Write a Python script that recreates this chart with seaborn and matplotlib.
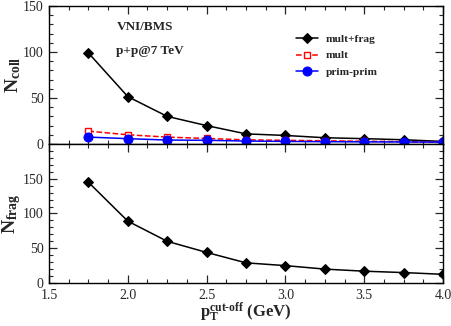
import matplotlib
matplotlib.use("Agg")
import matplotlib.pyplot as plt
import seaborn as sns
from matplotlib.ticker import MultipleLocator, FormatStrFormatter

pt_cut = [1.75, 2.0, 2.25, 2.5, 2.75, 3.0, 3.25, 3.5, 3.75, 4.0]
mult_frag = [99, 51.5, 30, 20, 11, 9.3, 6.8, 5.8, 4.6, 2.8]
mult = [14, 10, 7.5, 6, 4.5, 4, 3.5, 3, 2.5, 2]
prim_prim = [7.5, 5.8, 4.3, 4, 3.2, 2.8, 2.5, 2.3, 2.2, 2.0]
n_frag = [145, 89, 60, 44, 29, 25, 20, 17, 15, 12.5]

sns.set_style("ticks")
plt.rcParams['font.family'] = ['Liberation Serif', 'DejaVu Serif']
plt.rcParams['mathtext.fontset'] = 'custom'
plt.rcParams['mathtext.rm'] = 'Liberation Serif'
plt.rcParams['mathtext.bf'] = 'Liberation Serif:bold'
plt.rcParams['mathtext.it'] = 'Liberation Serif:italic'

fig = plt.figure(figsize=(4.52, 3.26), dpi=100)
ax1 = fig.add_axes([0.1084, 0.5583, 0.8717, 0.4233])
ax2 = fig.add_axes([0.1084, 0.1319, 0.8717, 0.4264])

sns.lineplot(x=pt_cut, y=mult_frag, ax=ax1, color='black', marker='D', markersize=5,
             linewidth=1.1, label='mult+frag', markeredgecolor='black')
sns.lineplot(x=pt_cut, y=mult, ax=ax1, color='red', marker='s', markersize=5,
             linewidth=1.1, linestyle='--', label='mult', markerfacecolor='white',
             markeredgecolor='red', markeredgewidth=1.0)
sns.lineplot(x=pt_cut, y=prim_prim, ax=ax1, color='blue', marker='o', markersize=6.5,
             linewidth=1.1, label='prim-prim', markeredgecolor='blue')

sns.lineplot(x=pt_cut, y=n_frag, ax=ax2, color='black', marker='D', markersize=5,
             linewidth=1.1, markeredgecolor='black')

for ax in (ax1, ax2):
    ax.set_xlim(1.5, 4.0)
    ax.xaxis.set_major_locator(MultipleLocator(0.5))
    ax.xaxis.set_minor_locator(MultipleLocator(0.125))
    ax.yaxis.set_major_locator(MultipleLocator(50))
    ax.yaxis.set_minor_locator(MultipleLocator(10))
    ax.tick_params(which='both', direction='in', top=True, right=True, labelsize=10)
    ax.tick_params(which='major', length=6, width=0.9, pad=4)
    ax.tick_params(which='minor', length=3, width=0.8)
    for sp in ax.spines.values():
        sp.set_linewidth(1.0)
        sp.set_color('black')

ax1.set_ylim(0, 150)
ax2.set_ylim(0, 200)
ax2.set_yticks([0, 50, 100, 150])
ax1.tick_params(labelbottom=False)
ax2.xaxis.set_major_formatter(FormatStrFormatter('%.1f'))

ax1.set_ylabel(r'$\mathbf{N}_{\mathbf{coll}}$', fontsize=14)
ax2.set_ylabel(r'$\mathbf{N}_{\mathbf{frag}}$', fontsize=14)
ax1.yaxis.set_label_coords(-0.066, 0.5)
ax2.yaxis.set_label_coords(-0.066, 0.5)
ax2.set_xlabel(r'$\mathbf{p}_{\mathbf{T}}^{\mathbf{cut\text{-}off}}$ (GeV)', fontsize=12,
               fontweight='bold')
ax2.xaxis.set_label_coords(0.5, -0.125)

ax1.text(0.244, 0.848, 'VNI/BMS', transform=ax1.transAxes, fontsize=9.5,
         fontweight='bold', ha='center', va='center')
ax1.text(0.257, 0.674, 'p+p@7 TeV', transform=ax1.transAxes, fontsize=9.5,
         fontweight='bold', ha='center', va='center')

leg = ax1.legend(loc='upper left', bbox_to_anchor=(0.615, 0.828), frameon=False,
                 prop={'family': 'Liberation Serif', 'weight': 'bold', 'size': 8.2},
                 handlelength=1.9, handletextpad=0.7, labelspacing=0.55,
                 borderaxespad=0)

fig.savefig('out.png', dpi=100)
